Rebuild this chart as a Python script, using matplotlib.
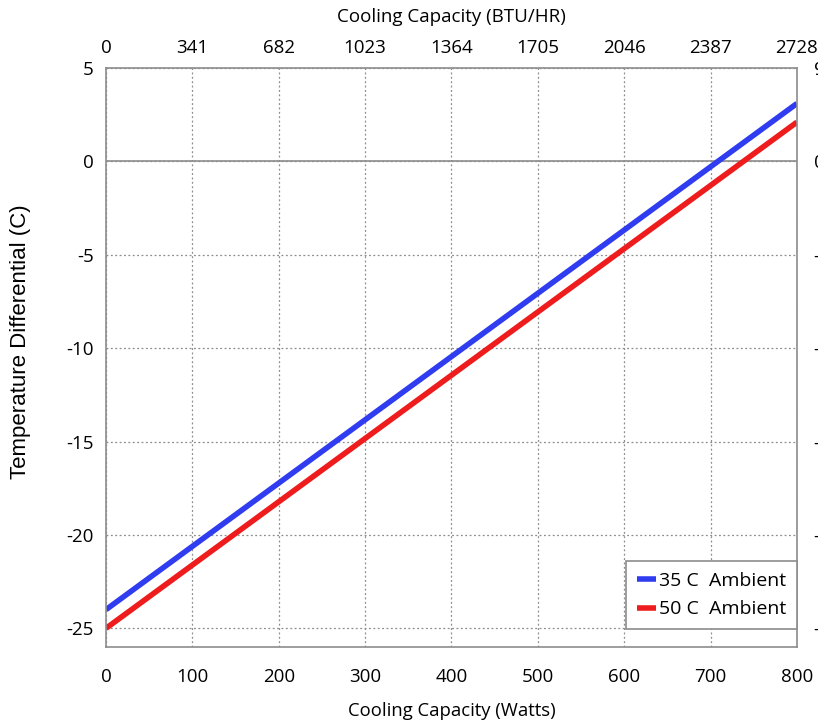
import numpy as np
import matplotlib
matplotlib.use("Agg")
import matplotlib.pyplot as plt

# data
watts = [0, 800]
ambient_35 = [-24.0, 3.1]
ambient_50 = [-25.0, 2.1]
x_ticks = [0, 100, 200, 300, 400, 500, 600, 700, 800]
btu_labels = ["0", "341", "682", "1023", "1364", "1705", "2046", "2387", "2728"]
y_ticks = [5, 0, -5, -10, -15, -20, -25]
f_labels = ["9", "0", "-9", "-18", "-27", "-36", "-45"]

plt.rcParams['font.family'] = ['Open Sans', 'DejaVu Sans']
plt.rcParams['axes.unicode_minus'] = False
grey = "#8c8c8c"

fig = plt.figure(figsize=(8.18, 7.24), dpi=100)
ax = fig.add_axes([0.1296, 0.1064, 0.8447, 0.7997])

ax.plot(watts, ambient_35, color="#2f3cf0", lw=4, label="35 C  Ambient", solid_capstyle="butt")
ax.plot(watts, ambient_50, color="#ee1c1c", lw=4, label="50 C  Ambient", solid_capstyle="butt")

ax.set_xlim(0, 800)
ax.set_ylim(-26, 5)
ax.set_xticks(x_ticks)
ax.set_yticks(y_ticks)
ax.grid(True, color=grey, ls=(0, (1.5, 2)), lw=0.9)
ax.axhline(0, color=grey, lw=1.2, zorder=1)
ax.tick_params(axis="x", length=0, labelsize=13.5, pad=15)
ax.tick_params(axis="y", length=0, labelsize=13.5, pad=9)
for s in ax.spines.values():
    s.set_color(grey)
    s.set_linewidth(1.2)

ax.set_xlabel("Cooling Capacity (Watts)", fontsize=13.3, labelpad=12)
ax.set_ylabel("Temperature Differential (C)", fontsize=16,
              family=['Liberation Sans', 'DejaVu Sans'])
ax.yaxis.set_label_coords(-0.108, 0.528)

top = ax.twiny()
top.set_xlim(ax.get_xlim())
top.set_xticks(x_ticks)
top.set_xticklabels(btu_labels)
top.tick_params(length=0, labelsize=13.5, pad=8)
top.set_xlabel("Cooling Capacity (BTU/HR)", fontsize=13.5, labelpad=12)
for s in top.spines.values():
    s.set_visible(False)

right = ax.twinx()
right.set_ylim(ax.get_ylim())
right.set_yticks(y_ticks)
right.set_yticklabels(f_labels)
right.tick_params(length=0, labelsize=13.5, pad=12)
for s in right.spines.values():
    s.set_visible(False)

leg = ax.legend(loc="lower right", bbox_to_anchor=(1.0, 0.031), fontsize=14,
                frameon=True, fancybox=False, handlelength=1.0,
                handletextpad=0.15, borderpad=0.55, borderaxespad=0.0,
                labelspacing=0.55)
leg.get_frame().set_edgecolor(grey)
leg.get_frame().set_linewidth(1.2)
leg.get_frame().set_alpha(1)

fig.savefig("out.png", dpi=100)
